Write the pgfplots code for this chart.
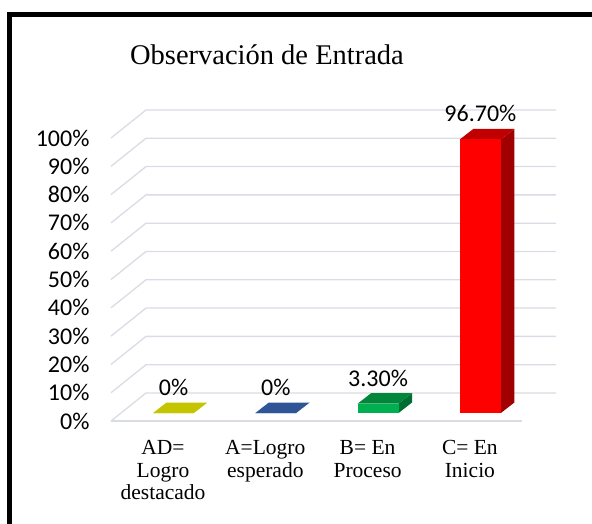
\documentclass[border=0pt]{standalone}
\usepackage{pgfplots}
\pgfplotsset{compat=1.18}
\usepackage{fontspec}
\setmainfont{Carlito}
\newfontfamily\tnr{Liberation Serif}
\definecolor{gridc}{RGB}{217,220,228}
\definecolor{yel}{RGB}{196,196,0}
\definecolor{blu}{RGB}{47,85,151}
\definecolor{grnF}{RGB}{0,176,80}
\definecolor{grnT}{RGB}{0,135,60}
\definecolor{grnS}{RGB}{0,110,50}
\definecolor{redF}{RGB}{255,0,0}
\definecolor{redT}{RGB}{192,0,0}
\definecolor{redS}{RGB}{160,0,0}
\begin{document}
\begin{tikzpicture}
\useasboundingbox (-173.5pt,-110pt) rectangle (418.5pt,413pt);
\begin{axis}[
  at={(0pt,0pt)}, anchor=origin,
  x=102.3pt, y=2.83pt,
  xmin=-0.611, xmax=3.739, ymin=-2.83, ymax=107.07,
  clip=false,
  axis line style={draw=none},
  tick style={draw=none},
  xtick={0,1,2,3},
  xticklabels={{AD=\\[-1.5pt]Logro\\[-1.5pt]destacado},{A=Logro\\[-1.5pt]esperado},{B= En\\[-1.5pt]Proceso},{C= En\\[-1.5pt]Inicio}},
  xticklabel style={font=\tnr\fontsize{21.5}{24}\selectfont, align=center, xshift=-10.5pt, yshift=-16pt},
  ytick={0,10,20,30,40,50,60,70,80,90,100},
  yticklabels={0\%,10\%,20\%,30\%,40\%,50\%,60\%,70\%,80\%,90\%,100\%},
  yticklabel style={font=\fontsize{24}{28}\selectfont, xshift=-18pt, yshift=-8pt},
  every axis plot/.append style={mark=none},
  nodes near coords style={anchor=base, yshift=17.5pt, font=\fontsize{24}{28}\selectfont, text=black},
]
% gridlines (floor front edge, side wall and back wall)
\addplot[gridc, line width=1.3pt] coordinates {(-0.611,-2.83) (3.407,-2.83)};
\addplot[gridc, line width=1.3pt] coordinates {(-0.611,-2.83) (-0.269,7.07) (3.739,7.07)};
\addplot[gridc, line width=1.3pt] coordinates {(-0.611,7.17) (-0.269,17.07) (3.739,17.07)};
\addplot[gridc, line width=1.3pt] coordinates {(-0.611,17.17) (-0.269,27.07) (3.739,27.07)};
\addplot[gridc, line width=1.3pt] coordinates {(-0.611,27.17) (-0.269,37.07) (3.739,37.07)};
\addplot[gridc, line width=1.3pt] coordinates {(-0.611,37.17) (-0.269,47.07) (3.739,47.07)};
\addplot[gridc, line width=1.3pt] coordinates {(-0.611,47.17) (-0.269,57.07) (3.739,57.07)};
\addplot[gridc, line width=1.3pt] coordinates {(-0.611,57.17) (-0.269,67.07) (3.739,67.07)};
\addplot[gridc, line width=1.3pt] coordinates {(-0.611,67.17) (-0.269,77.07) (3.739,77.07)};
\addplot[gridc, line width=1.3pt] coordinates {(-0.611,77.17) (-0.269,87.07) (3.739,87.07)};
\addplot[gridc, line width=1.3pt] coordinates {(-0.611,87.17) (-0.269,97.07) (3.739,97.07)};
\addplot[gridc, line width=1.3pt] coordinates {(-0.611,97.17) (-0.269,107.07) (3.739,107.07)};
% top and side faces of the 3D bars
\addplot[fill=yel, draw=none] coordinates {(-0.2,0) (0.2,0) (0.332,3.71) (-0.068,3.71)} -- cycle;
\addplot[fill=blu, draw=none] coordinates {(0.8,0) (1.2,0) (1.332,3.71) (0.932,3.71)} -- cycle;
\addplot[fill=grnS, draw=none] coordinates {(2.2,0) (2.332,3.71) (2.332,7.01) (2.2,3.3)} -- cycle;
\addplot[fill=grnT, draw=none] coordinates {(1.8,3.3) (2.2,3.3) (2.332,7.01) (1.932,7.01)} -- cycle;
\addplot[fill=redS, draw=none] coordinates {(3.2,0) (3.332,3.71) (3.332,100.41) (3.2,96.7)} -- cycle;
\addplot[fill=redT, draw=none] coordinates {(2.8,96.7) (3.2,96.7) (3.332,100.41) (2.932,100.41)} -- cycle;
% front faces with data labels
\addplot[ybar, bar width=0.4, bar shift=0pt, fill=yel, draw=none, point meta=explicit symbolic, nodes near coords] coordinates {(0,0) [0\%]};
\addplot[ybar, bar width=0.4, bar shift=0pt, fill=blu, draw=none, point meta=explicit symbolic, nodes near coords] coordinates {(1,0) [0\%]};
\addplot[ybar, bar width=0.4, bar shift=0pt, fill=grnF, draw=none, point meta=explicit symbolic, nodes near coords] coordinates {(2,3.3) [3.30\%]};
\addplot[ybar, bar width=0.4, bar shift=0pt, fill=redF, draw=none, point meta=explicit symbolic, nodes near coords] coordinates {(3,96.7) [96.70\%]};
\end{axis}
\node[anchor=base, font=\tnr\fontsize{28.5}{32}\selectfont] at (93.5pt,348pt) {Observación de Entrada};
\draw[line width=5pt] (420pt,398pt) -- (-163.5pt,398pt) -- (-163.5pt,-112pt);
\end{tikzpicture}
\end{document}
